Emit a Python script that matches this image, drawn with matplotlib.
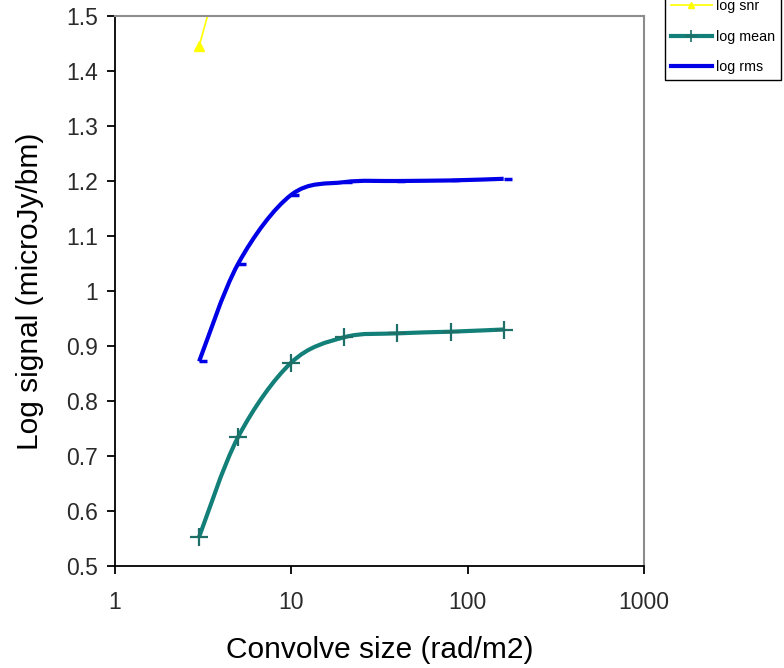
import matplotlib
matplotlib.use("Agg")
import matplotlib.pyplot as plt
import numpy as np
from matplotlib.path import Path
from matplotlib.patches import PathPatch
from matplotlib.lines import Line2D
from matplotlib.ticker import FixedLocator, FixedFormatter, NullLocator

plt.rcParams['font.family'] = ['Liberation Sans', 'DejaVu Sans']

# convolve sizes (rad/m2) and log signal values
size = [3, 5, 10, 20, 40, 80, 160]
log_mean = [0.553, 0.735, 0.870, 0.916, 0.923, 0.926, 0.930]
log_rms = [0.872, 1.050, 1.175, 1.198, 1.200, 1.201, 1.204]
log_peak = [1.445, 1.68, 1.82, 1.86, 1.87, 1.87, 1.88]

yticks = [0.5, 0.6, 0.7, 0.8, 0.9, 1.0, 1.1, 1.2, 1.3, 1.4, 1.5]
ytick_labels = ['0.5', '0.6', '0.7', '0.8', '0.9', '1', '1.1', '1.2', '1.3', '1.4', '1.5']
xticks = [1, 10, 100, 1000]
xtick_labels = ['1', '10', '100', '1000']


def smooth_path(xs, ys):
    # Catmull-Rom style bezier through the points, worked out in log-x space
    lx = np.log10(xs)
    ys = np.asarray(ys, dtype=float)
    pts = np.column_stack([lx, ys])
    n = len(pts)
    verts = [pts[0]]
    codes = [Path.MOVETO]
    for i in range(n - 1):
        p0 = pts[max(i - 1, 0)]
        p1 = pts[i]
        p2 = pts[i + 1]
        p3 = pts[min(i + 2, n - 1)]
        c1 = p1 + (p2 - p0) / 6.0
        c2 = p2 - (p3 - p1) / 6.0
        verts += [c1, c2, p2]
        codes += [Path.CURVE4] * 3
    verts = np.array(verts)
    verts[:, 0] = 10 ** verts[:, 0]
    return Path(verts, codes)


fig = plt.figure(figsize=(7.84, 6.68), dpi=100)
ax = fig.add_axes([115 / 784, (668 - 566) / 668, (644 - 115) / 784, (566 - 16) / 668])
ax.set_xscale('log')
ax.set_xlim(1, 1000)
ax.set_ylim(0.5, 1.5)

teal = '#128078'
blue = '#0000e6'
yellow = '#ffff00'

for xs, ys, col in [(size, log_peak, yellow), (size, log_rms, blue), (size, log_mean, teal)]:
    lw = 1.2 if col == yellow else 3.0
    ax.add_patch(PathPatch(smooth_path(xs, ys), facecolor='none', edgecolor=col,
                           lw=lw, capstyle='butt', joinstyle='round'))

ax.plot(size[:1], log_peak[:1], linestyle='none', marker='^', ms=7, color=yellow, clip_on=True)
# dash markers sit just to the right of each point
ax.plot(size, log_rms, linestyle='none', marker=[(0, 0), (1, 0)], ms=11, mew=2.5, color=blue)
ax.plot(size, log_mean, linestyle='none', marker='+', ms=13, mew=1.6, color='#1d6f68')

# axes styling
for side in ['left', 'bottom']:
    ax.spines[side].set_color('black')
    ax.spines[side].set_linewidth(1.3)
for side in ['top', 'right']:
    ax.spines[side].set_color('#8c8c8c')
    ax.spines[side].set_linewidth(1.5)

ax.xaxis.set_major_locator(FixedLocator(xticks))
ax.xaxis.set_major_formatter(FixedFormatter(xtick_labels))
ax.xaxis.set_minor_locator(NullLocator())
ax.yaxis.set_major_locator(FixedLocator(yticks))
ax.yaxis.set_major_formatter(FixedFormatter(ytick_labels))
ax.tick_params(axis='both', direction='out', length=6, width=1.3, labelsize=16.5,
               colors='black', labelcolor='#2a2a2a')
ax.tick_params(axis='y', pad=6)
ax.tick_params(axis='x', pad=12)

ax.set_xlabel('Convolve size (rad/m2)', fontsize=21.5, labelpad=16)
ax.set_ylabel('Log signal (microJy/bm)', fontsize=21.5, labelpad=16)

handles = [
    Line2D([], [], color=yellow, lw=1.2, marker='^', ms=5),
    Line2D([], [], color=teal, lw=3.0, marker='+', ms=8, mew=1.2, markeredgecolor='#1d6f68'),
    Line2D([], [], color=blue, lw=3.0),
]
leg = fig.legend(handles, ['log snr', 'log mean', 'log rms'], loc='lower left',
                 bbox_to_anchor=(665 / 784, (668 - 80) / 668), fontsize=10.3,
                 handlelength=2.9, handletextpad=0.3, labelspacing=1.15,
                 borderpad=0.4, borderaxespad=0, fancybox=False, framealpha=1,
                 edgecolor='black')
leg.get_frame().set_linewidth(1.0)

fig.savefig('out.png', dpi=100)
